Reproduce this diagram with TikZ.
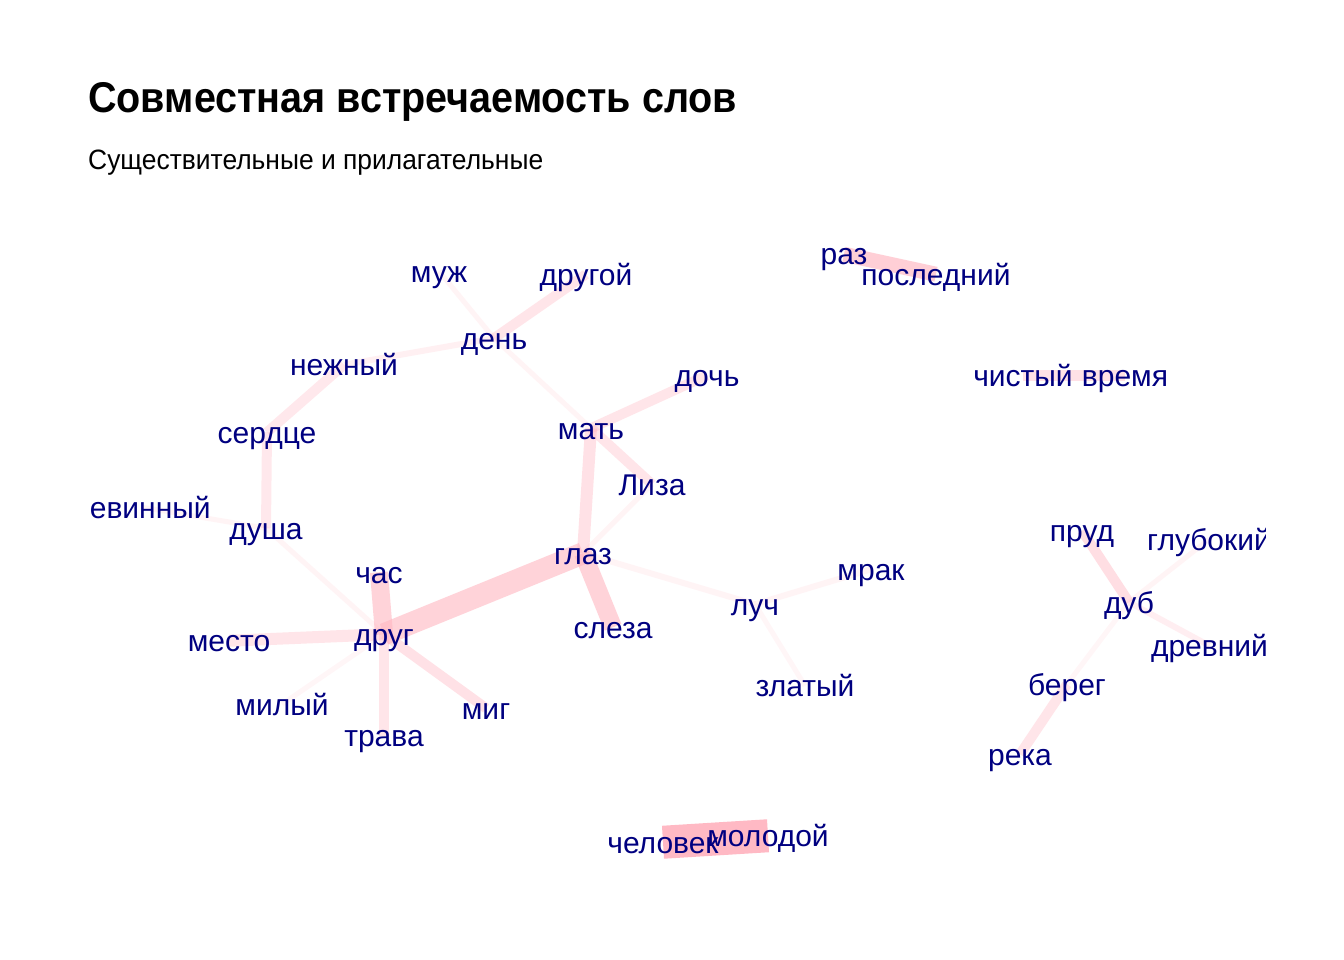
\documentclass[tikz,border=0pt]{standalone}
\usepackage{fontspec}
\setmainfont{Liberation Sans}
\usepackage{graphicx}
\pgfdeclarelayer{bg}
\pgfsetlayers{bg,main}
\definecolor{lightpinkc}{HTML}{FFB6C1}
\definecolor{navyc}{HTML}{000080}
\newcommand\lnk[4]{\draw[ed, line width=#3pt, draw opacity=#4] ([yshift=10.75pt]#1.base) -- ([yshift=10.75pt]#2.base);}
\begin{document}
\begin{tikzpicture}[x=1pt,y=-1pt,
  lbl/.style={anchor=base, inner sep=0pt, text=navyc, font=\fontsize{30}{36}\selectfont},
  ed/.style={draw=lightpinkc, line cap=butt},
  ttl/.style={anchor=base west, inner sep=0pt}]
\useasboundingbox (0,0) rectangle (1344,960);
\node[ttl] (title) at (88,112.5) {\resizebox{649pt}{\height}{\fontsize{43}{50}\selectfont\bfseries Совместная встречаемость слов}};
\node[ttl] (subtitle) at (88,170) {\resizebox{455pt}{\height}{\fontsize{28}{32}\selectfont Существительные и прилагательные}};
\begin{scope}
\clip (88,0) rectangle (1265,960);
\node[lbl] (muzh) at (439,282) {муж};
\node[lbl] (drugoy) at (586,285) {другой};
\node[lbl] (den) at (494,349) {день};
\node[lbl] (nezh) at (344,375.5) {нежный};
\node[lbl] (serd) at (267,443) {сердце};
\node[lbl] (doch) at (707,386) {дочь};
\node[lbl] (mat) at (591,439) {мать};
\node[lbl] (liza) at (652,495) {Лиза};
\node[lbl] (nevin) at (142,518) {невинный};
\node[lbl] (dusha) at (266,539) {душа};
\node[lbl] (glaz) at (583,564) {глаз};
\node[lbl] (chas) at (379,583) {час};
\node[lbl] (drug) at (384,645) {друг};
\node[lbl] (mesto) at (229,651.5) {место};
\node[lbl] (mil) at (282,715) {милый};
\node[lbl] (trava) at (384,746.5) {трава};
\node[lbl] (mig) at (486,719) {миг};
\node[lbl] (sleza) at (613,638) {слеза};
\node[lbl] (luch) at (755,615) {луч};
\node[lbl] (mrak) at (871,580) {мрак};
\node[lbl] (zlat) at (805,696.5) {златый};
\node[lbl] (raz) at (844,265) {раз};
\node[lbl] (posl) at (936,285) {последний};
\node[lbl] (chist) at (1023,386.5) {чистый};
\node[lbl] (vrem) at (1125,386.5) {время};
\node[lbl] (prud) at (1082,541.5) {пруд};
\node[lbl] (glub) at (1209,550) {глубокий};
\node[lbl] (dub) at (1129,613) {дуб};
\node[lbl] (drev) at (1209.5,656.5) {древний};
\node[lbl] (bereg) at (1067,695) {берег};
\node[lbl] (reka) at (1020,765) {река};
\node[lbl] (chel) at (663,853) {человек};
\node[lbl] (molod) at (768,846.5) {молодой};
\end{scope}
\begin{pgfonlayer}{bg}
\fill[white] (0,0) rectangle (1344,960);
\lnk{muzh}{den}{5}{0.15}
\lnk{drugoy}{den}{10}{0.35}
\lnk{nezh}{den}{6}{0.2}
\lnk{nezh}{serd}{10}{0.3}
\lnk{serd}{dusha}{10}{0.3}
\lnk{nevin}{dusha}{5}{0.15}
\lnk{dusha}{drug}{5}{0.15}
\lnk{den}{mat}{5}{0.15}
\lnk{doch}{mat}{10}{0.35}
\lnk{mat}{liza}{10}{0.35}
\lnk{mat}{glaz}{12}{0.4}
\lnk{liza}{glaz}{5}{0.15}
\lnk{glaz}{drug}{22}{0.6}
\lnk{glaz}{sleza}{18}{0.6}
\lnk{glaz}{luch}{6}{0.15}
\lnk{luch}{mrak}{6}{0.15}
\lnk{luch}{zlat}{5}{0.12}
\lnk{chas}{drug}{18}{0.6}
\lnk{mesto}{drug}{12}{0.35}
\lnk{mil}{drug}{5}{0.12}
\lnk{trava}{drug}{10}{0.35}
\lnk{mig}{drug}{10}{0.4}
\lnk{raz}{posl}{15}{0.65}
\lnk{chist}{vrem}{11}{0.4}
\lnk{chel}{molod}{33}{0.95}
\lnk{prud}{dub}{10}{0.45}
\lnk{glub}{dub}{5}{0.15}
\lnk{drev}{dub}{6}{0.22}
\lnk{bereg}{dub}{5}{0.12}
\lnk{bereg}{reka}{10}{0.35}
\end{pgfonlayer}
\end{tikzpicture}
\end{document}
